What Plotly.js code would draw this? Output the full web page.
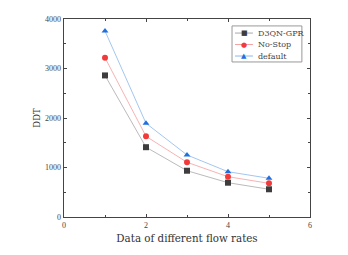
<!DOCTYPE html>
<html>
<head>
<meta charset="utf-8">
<script src="https://cdn.plot.ly/plotly-3.0.1.min.js"></script>
<style>html,body{margin:0;padding:0;background:#fff;}#chart{width:348px;height:255px;}</style>
</head>
<body>
<div id="chart"></div>
<script>
var flowRates = [1, 2, 3, 4, 5];
var seriesNames = ["D3QN-GPR", "No-Stop", "default"];
var d3qnGpr = [2860, 1410, 935, 693, 560];
var noStop = [3218, 1630, 1105, 814, 680];
var defaultVals = [3758, 1893, 1253, 915, 782];
var xTickVals = [0, 2, 4, 6];
var yTickVals = [0, 1000, 2000, 3000, 4000];

var tickFam = "Liberation Serif, serif";
var textFam = "DejaVu Serif, serif";
var markerCols = ['#3d3d3d', '#f23a3a', '#1f6fe0'];
var lineCols = ['#a8a8a8', '#f4a0a0', '#8ab8ec'];
var symbols = ['square', 'circle', 'triangle-up'];
var symChars = ['\u25A0', '\u25CF', '\u25B2'];
var allSeries = [d3qnGpr, noStop, defaultVals];

var data = allSeries.map(function (y, i) {
  return {x: flowRates, y: y, name: seriesNames[i], type: 'scatter', mode: 'lines+markers',
    showlegend: false,
    line: {color: lineCols[i], width: 0.8},
    marker: {color: markerCols[i], symbol: symbols[i], size: 6}};
});

// hand-built compact legend (paper coordinates)
var shapes = [{type: 'rect', xref: 'paper', yref: 'paper', x0: 0.683, x1: 0.967, y0: 0.783, y1: 0.965,
  line: {color: '#999', width: 1}, fillcolor: '#fff', layer: 'above'}];
var annotations = [];
var legY = [0.929, 0.871, 0.813];
seriesNames.forEach(function (n, i) {
  shapes.push({type: 'line', xref: 'paper', yref: 'paper', x0: 0.695, x1: 0.768, y0: legY[i], y1: legY[i],
    line: {color: lineCols[i], width: 1}, layer: 'above'});
  annotations.push({xref: 'paper', yref: 'paper', x: 0.732, y: legY[i], text: symChars[i], showarrow: false,
    xanchor: 'center', yanchor: 'middle', font: {family: 'DejaVu Sans', size: 7, color: markerCols[i]}});
  annotations.push({xref: 'paper', yref: 'paper', x: 0.782, y: legY[i], text: n, showarrow: false,
    xanchor: 'left', yanchor: 'middle', font: {family: textFam, size: 8, color: '#444'}});
});

var axBase = {showgrid: false, zeroline: false, showline: true, linecolor: '#444', linewidth: 1.3,
  mirror: 'ticks', ticks: 'inside', ticklen: 3, tickcolor: '#444', tickwidth: 1,
  tickfont: {family: tickFam, size: 8, color: '#444'}};
var layout = {
  width: 348, height: 255,
  margin: {l: 64, r: 38, t: 19, b: 38},
  paper_bgcolor: '#fff', plot_bgcolor: '#fff',
  showlegend: false,
  shapes: shapes, annotations: annotations,
  xaxis: Object.assign({}, axBase, {range: [0, 6], tickvals: xTickVals,
    minor: {tickvals: [1, 3, 5], ticks: 'inside', ticklen: 2, tickcolor: '#444'},
    title: {text: 'Data of different flow rates', font: {family: textFam, size: 10.3, color: '#333'}, standoff: 6}}),
  yaxis: Object.assign({}, axBase, {range: [0, 4000], tickvals: yTickVals,
    minor: {tickvals: [500, 1500, 2500, 3500], ticks: 'inside', ticklen: 2, tickcolor: '#444'},
    title: {text: 'DDT', font: {family: textFam, size: 8.5, color: '#333'}, standoff: 3}})
};
Plotly.newPlot('chart', data, layout, {displayModeBar: false, staticPlot: true});
</script>
</body>
</html>
